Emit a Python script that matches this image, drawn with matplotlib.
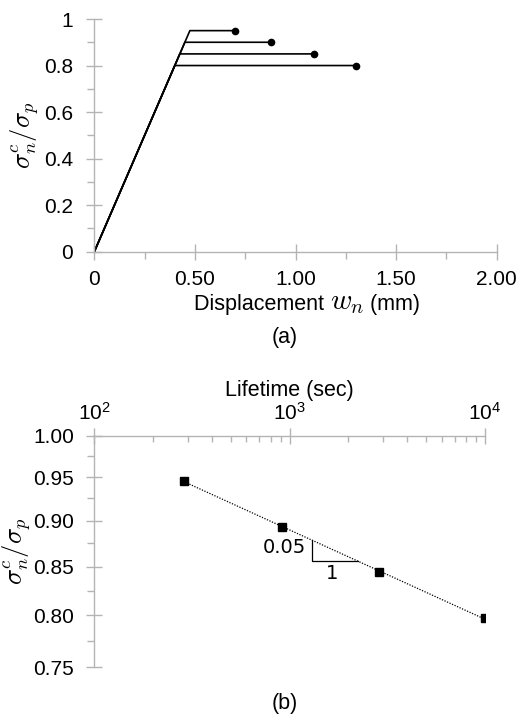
import numpy as np
import matplotlib
matplotlib.use("Agg")
import matplotlib.pyplot as plt
from matplotlib.ticker import FixedLocator, NullFormatter, LogLocator
from matplotlib.offsetbox import TextArea, HPacker, AnchoredOffsetbox

# ---- data ----
# panel (a): peak strength levels and end displacements
peak_levels = [0.95, 0.90, 0.85, 0.80]
end_disp = [0.70, 0.88, 1.09, 1.30]
stiffness = 2.0  # slope of linear loading branch (1/mm)

# panel (b): lifetime vs strength ratio
lifetime = [289, 917, 2880, 10000]
strength_ratio = [0.945, 0.893, 0.844, 0.797]
tri_x = [1300, 2250]

xticks_a = [0, 0.5, 1.0, 1.5, 2.0]
xticklabels_a = ["0", "0.50", "1.00", "1.50", "2.00"]
yticks_a = [0, 0.2, 0.4, 0.6, 0.8, 1.0]
yticklabels_a = ["0", "0.2", "0.4", "0.6", "0.8", "1"]
yticks_b = [0.75, 0.80, 0.85, 0.90, 0.95, 1.00]
yticklabels_b = ["0.75", "0.80", "0.85", "0.90", "0.95", "1.00"]

plt.rcParams['font.family'] = ['Liberation Sans', 'DejaVu Sans']
plt.rcParams['mathtext.fontset'] = 'cm'

GRAY = '#b4b4b4'
FS = 15
LFS = 15.5

fig = plt.figure(figsize=(5.16, 7.17), dpi=100)

# ---------- panel (a) ----------
ax1 = fig.add_axes([0.1828, 0.649, 0.9626 - 0.1828, 0.9735 - 0.649])
for lvl, e in zip(peak_levels, end_disp):
    xs = [0, lvl / stiffness, e]
    ys = [0, lvl, lvl]
    ax1.plot(xs, ys, color='black', lw=1.2, solid_joinstyle='miter')
    ax1.plot([e], [lvl], 'o', color='black', ms=4.5)
ax1.set_xlim(0, 2)
ax1.set_ylim(0, 1)
ax1.set_xticks(xticks_a)
ax1.set_xticklabels(xticklabels_a)
ax1.set_yticks(yticks_a)
ax1.set_yticklabels(yticklabels_a)
ax1.xaxis.set_minor_locator(FixedLocator([0.25, 0.75, 1.25, 1.75]))
ax1.yaxis.set_minor_locator(FixedLocator([0.1, 0.3, 0.5, 0.7, 0.9]))
for s in ['top', 'right']:
    ax1.spines[s].set_visible(False)
for s in ['left', 'bottom']:
    ax1.spines[s].set_color(GRAY)
    ax1.spines[s].set_linewidth(1.0)
ax1.tick_params(which='major', direction='inout', length=12, width=1, color=GRAY,
                labelsize=FS)
ax1.tick_params(which='minor', direction='out', length=5, width=1, color=GRAY)
ax1.tick_params(axis='y', which='major', pad=9.5)
ax1.tick_params(axis='x', which='major', pad=7.5)
ax1.set_ylabel(r"$\sigma_n^c/\sigma_p$", fontsize=19, labelpad=2)

# x label with a larger math symbol
parts = [TextArea("Displacement ", textprops=dict(fontsize=LFS)),
         TextArea(r"$w_n$", textprops=dict(fontsize=21)),
         TextArea(" (mm)", textprops=dict(fontsize=LFS))]
pack = HPacker(children=parts, align="baseline", pad=0, sep=0)
anch = AnchoredOffsetbox(loc='center', child=pack, frameon=False, pad=0, borderpad=0,
                         bbox_to_anchor=(307 / 516, 1 - 302 / 717),
                         bbox_transform=fig.transFigure)
fig.add_artist(anch)
fig.text(0.552, 1 - 338 / 717, "(a)", ha='center', va='center', fontsize=LFS)

# ---------- panel (b) ----------
ax2 = fig.add_axes([0.1828, 0.0693, 0.940 - 0.1828, 0.3923 - 0.0693])
ax2.set_xscale('log')
ax2.set_yscale('log')
ax2.set_xlim(100, 1e4)
ax2.set_ylim(0.75, 1.0)

lx = np.log10(lifetime)
ly = np.log10(strength_ratio)
b, a = np.polyfit(lx, ly, 1)
fx = np.array([lifetime[0], lifetime[-1]], dtype=float)
fy = 10 ** (a + b * np.log10(fx))
ax2.plot(fx, fy, color='black', lw=0.9, linestyle=(0, (1, 1.2)))
ax2.plot(lifetime, strength_ratio, 's', color='black', ms=5.5)

ty = 10 ** (a + b * np.log10(np.array(tri_x, dtype=float)))
ax2.plot([tri_x[0], tri_x[0], tri_x[1]], [ty[0], ty[1], ty[1]], color='black', lw=0.9)
ax2.text(tri_x[0] * 0.93, (ty[0] + ty[1]) / 2 + 0.003, "0.05", ha='right', va='center',
         fontsize=14, family='DejaVu Sans')
ax2.text(np.sqrt(tri_x[0] * tri_x[1]) * 0.96, ty[1] - 0.013, "1", ha='center', va='center',
         fontsize=14, family='DejaVu Sans')

ax2.set_yticks(yticks_b)
ax2.set_yticklabels(yticklabels_b)
ax2.yaxis.set_minor_locator(FixedLocator([0.775, 0.825, 0.875, 0.925, 0.975]))
ax2.yaxis.set_minor_formatter(NullFormatter())
ax2.xaxis.set_major_locator(FixedLocator([1e2, 1e3, 1e4]))
ax2.xaxis.set_minor_locator(LogLocator(base=10, subs=np.arange(2, 10), numticks=20))
ax2.xaxis.set_minor_formatter(NullFormatter())
ax2.xaxis.tick_top()
ax2.xaxis.set_label_position('top')
for s in ['bottom', 'right']:
    ax2.spines[s].set_visible(False)
for s in ['left', 'top']:
    ax2.spines[s].set_color(GRAY)
    ax2.spines[s].set_linewidth(1.0)
ax2.tick_params(which='major', direction='inout', length=12, width=1, color=GRAY,
                labelsize=FS)
ax2.tick_params(axis='y', which='minor', direction='out', length=5, width=1, color=GRAY)
ax2.tick_params(axis='x', which='minor', direction='in', length=4, width=1, color=GRAY)
ax2.tick_params(axis='y', which='major', pad=8.5)
ax2.tick_params(axis='x', which='major', pad=2.5)
ax2.set_xlabel("Lifetime (sec)", fontsize=LFS, labelpad=4)
ax2.set_ylabel(r"$\sigma_n^c/\sigma_p$", fontsize=19, labelpad=0)
fig.text(0.552, 1 - 703 / 717, "(b)", ha='center', va='center', fontsize=LFS)

fig.savefig("out.png", dpi=100)
